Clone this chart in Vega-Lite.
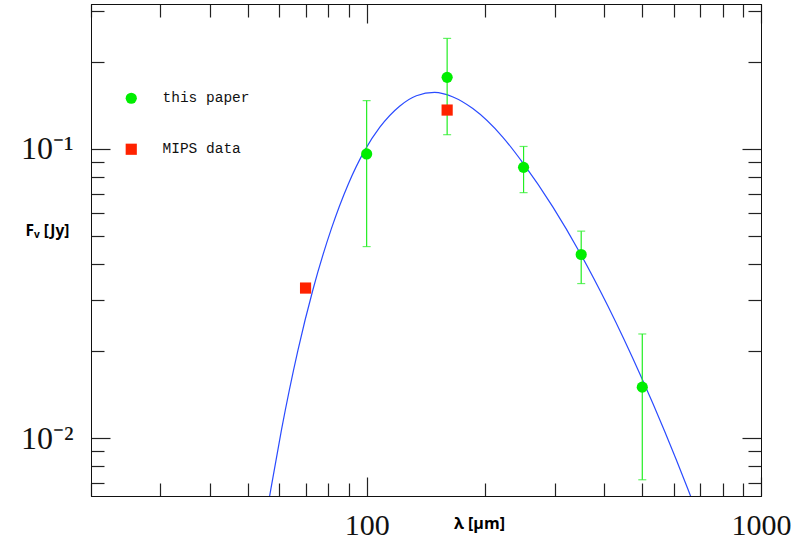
{
  "$schema": "https://vega.github.io/schema/vega-lite/v6.json",
  "autosize": {"type": "none"},
  "padding": {"left": 91, "top": 4, "right": 38, "bottom": 43},
  "width": 670,
  "height": 492,
  "background": "white",
  "config": {
    "view": {"stroke": "#111", "strokeWidth": 1},
    "axis": {"grid": false, "domainColor": "#111", "tickColor": "#222", "tickWidth": 1.2, "labelOverlap": false, "labelFlush": false, "labelBound": false}
  },
  "datasets": {
    "curve": [
      {"wl": 55, "f": 0.00491},
      {"wl": 57.1, "f": 0.00661},
      {"wl": 60.8, "f": 0.01066},
      {"wl": 66.9, "f": 0.02003},
      {"wl": 73.1, "f": 0.03263},
      {"wl": 81.4, "f": 0.05294},
      {"wl": 89.7, "f": 0.07511},
      {"wl": 98.8, "f": 0.09847},
      {"wl": 107.9, "f": 0.1184},
      {"wl": 121.2, "f": 0.1402},
      {"wl": 133.7, "f": 0.1524},
      {"wl": 148.7, "f": 0.1565},
      {"wl": 165.6, "f": 0.1509},
      {"wl": 185.9, "f": 0.1376},
      {"wl": 221.6, "f": 0.1095},
      {"wl": 249, "f": 0.0893},
      {"wl": 296.8, "f": 0.0628},
      {"wl": 346.7, "f": 0.0439},
      {"wl": 409, "f": 0.0286},
      {"wl": 497.3, "f": 0.01623},
      {"wl": 569.7, "f": 0.01057},
      {"wl": 652.8, "f": 0.00666},
      {"wl": 700, "f": 0.00519}
    ],
    "obs": [
      {"s": "this paper", "wl": 100, "f": 0.0959, "lo": 0.0459, "hi": 0.1466},
      {"s": "this paper", "wl": 160, "f": 0.1764, "lo": 0.1118, "hi": 0.2405},
      {"s": "this paper", "wl": 250, "f": 0.0862, "lo": 0.0705, "hi": 0.1018},
      {"s": "this paper", "wl": 350, "f": 0.0431, "lo": 0.0342, "hi": 0.0519},
      {"s": "this paper", "wl": 500, "f": 0.0150, "lo": 0.00718, "hi": 0.0229},
      {"s": "MIPS data", "wl": 70, "f": 0.033},
      {"s": "MIPS data", "wl": 160, "f": 0.136}
    ]
  },
  "layer": [
    {
      "data": {"name": "curve"},
      "mark": {"type": "line", "color": "#2a4bff", "strokeWidth": 1.2, "clip": true, "interpolate": "monotone"},
      "encoding": {
        "x": {"field": "wl", "type": "quantitative",
          "scale": {"type": "log", "domain": [20, 1000], "nice": false, "zero": false},
          "axis": {"orient": "bottom",
            "values": [20, 30, 40, 50, 60, 70, 80, 90, 100, 200, 300, 400, 500, 600, 700, 800, 900, 1000],
            "tickSize": {"condition": {"test": "datum.value == 100 || datum.value == 1000", "value": -19}, "value": -13},
            "labelExpr": "datum.value == 100 ? '100' : datum.value == 1000 ? '1000' : ''",
            "labelFont": "Liberation Serif", "labelFontSize": 30, "labelColor": "#111",
            "labelPadding": 48, "labelBaseline": "middle",
            "title": "λ [μm]", "titleFont": "Open Sans", "titleFontWeight": "bold", "titleFontSize": 16, "titleColor": "#000",
            "titleX": 388, "titleY": 27, "titleBaseline": "middle", "titleAlign": "center"}
        },
        "y": {"field": "f", "type": "quantitative",
          "scale": {"type": "log", "domain": [0.00631, 0.3162], "nice": false, "zero": false},
          "axis": {"orient": "left",
            "values": [0.007, 0.008, 0.009, 0.01, 0.02, 0.03, 0.04, 0.05, 0.06, 0.07, 0.08, 0.09, 0.1, 0.2, 0.3],
            "tickSize": {"condition": {"test": "datum.value == 0.1 || datum.value == 0.01", "value": -19}, "value": -13},
            "labelExpr": "datum.value == 0.1 ? '10⁻¹' : datum.value == 0.01 ? '10⁻²' : ''",
            "labelFont": "Liberation Serif", "labelFontSize": 32, "labelColor": "#111",
            "labelPadding": 37, "labelBaseline": "middle",
            "title": "Fᵥ [Jy]", "titleFont": "Noto Sans", "titleFontWeight": "bold", "titleFontSize": 15.5, "titleColor": "#000",
            "titleAngle": 0, "titleX": -44, "titleY": 226, "titleAlign": "center", "titleBaseline": "middle"}
        }
      }
    },
    {
      "data": {"name": "obs"},
      "transform": [{"filter": "datum.s == 'this paper'"}],
      "mark": {"type": "rule", "color": "#22ee22", "strokeWidth": 1.2},
      "encoding": {
        "x": {"field": "wl", "type": "quantitative",
          "scale": {"type": "log", "domain": [20, 1000], "nice": false, "zero": false},
          "axis": {"orient": "top", "labels": false, "title": null,
            "values": [20, 30, 40, 50, 60, 70, 80, 90, 100, 200, 300, 400, 500, 600, 700, 800, 900, 1000],
            "tickSize": {"condition": {"test": "datum.value == 100 || datum.value == 1000", "value": -19}, "value": -13}}
        },
        "y": {"field": "lo", "type": "quantitative",
          "scale": {"type": "log", "domain": [0.00631, 0.3162], "nice": false, "zero": false},
          "axis": {"orient": "right", "labels": false, "title": null,
            "values": [0.007, 0.008, 0.009, 0.01, 0.02, 0.03, 0.04, 0.05, 0.06, 0.07, 0.08, 0.09, 0.1, 0.2, 0.3],
            "tickSize": {"condition": {"test": "datum.value == 0.1 || datum.value == 0.01", "value": -19}, "value": -13}}
        },
        "y2": {"field": "hi"}
      }
    },
    {
      "data": {"name": "obs"},
      "transform": [{"filter": "datum.s == 'this paper'"}],
      "mark": {"type": "tick", "color": "#22ee22", "orient": "horizontal", "size": 8, "thickness": 1.2},
      "encoding": {
        "x": {"field": "wl", "type": "quantitative", "axis": null},
        "y": {"field": "hi", "type": "quantitative", "axis": null}
      }
    },
    {
      "data": {"name": "obs"},
      "transform": [{"filter": "datum.s == 'this paper'"}],
      "mark": {"type": "tick", "color": "#22ee22", "orient": "horizontal", "size": 8, "thickness": 1.2},
      "encoding": {
        "x": {"field": "wl", "type": "quantitative", "axis": null},
        "y": {"field": "lo", "type": "quantitative", "axis": null}
      }
    },
    {
      "data": {"name": "obs"},
      "mark": {"type": "point", "filled": true, "opacity": 1, "size": 125},
      "encoding": {
        "x": {"field": "wl", "type": "quantitative", "axis": null},
        "y": {"field": "f", "type": "quantitative", "axis": null},
        "color": {"field": "s", "type": "nominal",
          "scale": {"domain": ["this paper", "MIPS data"], "range": ["#00ee00", "#ff2200"]},
          "legend": {"orient": "none", "legendX": 33, "legendY": 87, "title": null, "padding": 0,
            "labelFont": "Liberation Mono", "labelFontSize": 14.5, "labelColor": "#111",
            "symbolSize": 125, "symbolStrokeWidth": 0, "symbolOpacity": 1, "rowPadding": 36, "labelOffset": 24}},
        "shape": {"field": "s", "type": "nominal",
          "scale": {"domain": ["this paper", "MIPS data"], "range": ["circle", "square"]},
          "legend": {"orient": "none", "legendX": 33, "legendY": 87, "title": null, "padding": 0,
            "labelFont": "Liberation Mono", "labelFontSize": 14.5, "labelColor": "#111",
            "symbolSize": 125, "symbolStrokeWidth": 0, "symbolOpacity": 1, "rowPadding": 36, "labelOffset": 24}}
      }
    }
  ],
  "resolve": {"axis": {"x": "independent", "y": "independent"}}
}
